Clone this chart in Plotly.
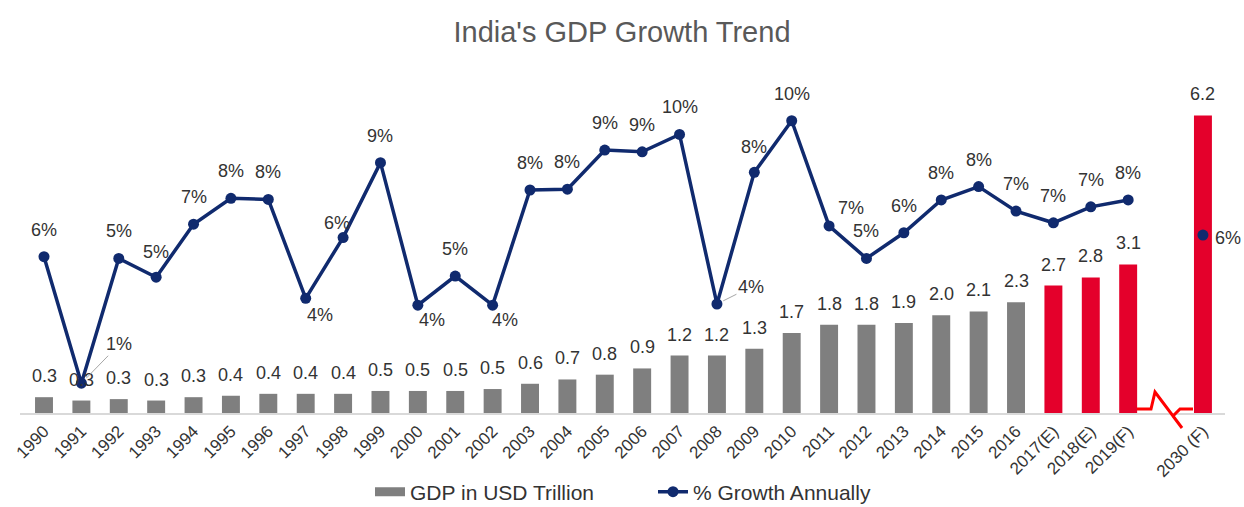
import plotly.graph_objects as go

# ---------------- data ----------------
categories = ["1990", "1991", "1992", "1993", "1994", "1995", "1996", "1997", "1998", "1999",
              "2000", "2001", "2002", "2003", "2004", "2005", "2006", "2007", "2008", "2009",
              "2010", "2011", "2012", "2013", "2014", "2015", "2016",
              "2017(E)", "2018(E)", "2019(F)", "2030 (F)"]
gdp_usd_trillion = [0.33, 0.26, 0.29, 0.26, 0.33, 0.36, 0.40, 0.40, 0.40, 0.46,
                    0.46, 0.46, 0.50, 0.61, 0.70, 0.80, 0.93, 1.20, 1.20, 1.34,
                    1.67, 1.84, 1.84, 1.88, 2.04, 2.12, 2.31,
                    2.66, 2.83, 3.10, 6.21]
growth_pct = [5.52, 1.08, 5.46, 4.80, 6.66, 7.57, 7.53, 4.06, 6.19, 8.82,
              3.82, 4.84, 3.82, 7.86, 7.89, 9.26, 9.20, 9.81, 3.86, 8.48,
              10.29, 6.60, 5.46, 6.36, 7.51, 7.98, 7.12,
              6.71, 7.27, 7.51, 6.28]
projected = ["2017(E)", "2018(E)", "2019(F)", "2030 (F)"]

# ---------------- styling ----------------
W, H = 1244, 507
M_L, M_R, M_T, M_B = 20, 19, 80, 94
GRAY, RED, NAVY = "#7f7f7f", "#e4002b", "#102a6e"
TXT = "#333333"
FONT = "Liberation Sans, Arial, sans-serif"
GAP = " "  # axis break slot before 2030

axis_order = categories[:-1] + [GAP] + categories[-1:]
pos = {c: i for i, c in enumerate(axis_order)}  # category -> serial index on the axis
line_x = axis_order
line_y = growth_pct[:-1] + [None] + growth_pct[-1:]
bar_colors = [RED if c in projected else GRAY for c in categories]

X_RANGE = [-0.642, 31.59]
Y1_RANGE = [0, 6.95]
Y2_RANGE = [0.035, 11.72]

# label offsets (pixels: dx right, dy up) for growth labels; default above
label_off = {
    "1991": (38, 39, True),
    "1993": (0, 25, False),
    "1997": (14, -17, False),
    "1998": (-6, 15, False),
    "2000": (14, -15, False),
    "2002": (12, -15, False),
    "2008": (34, 17, True),
    "2009": (0, 25, False),
    "2011": (22, 18, False),
    "2030 (F)": (25, -3, False),
}

fig = go.Figure()
fig.add_trace(go.Bar(
    x=categories, y=gdp_usd_trillion, marker=dict(color=bar_colors, line=dict(width=0)),
    name="GDP in USD Trillion", showlegend=False, yaxis="y",
))
# legend proxy for the bar series (wide grey swatch)
fig.add_trace(go.Scatter(
    x=[None], y=[None], mode="lines", line=dict(color=GRAY, width=9),
    name="GDP in USD Trillion", showlegend=True,
))
fig.add_trace(go.Scatter(
    x=line_x, y=line_y, mode="lines+markers", yaxis="y2",
    line=dict(color=NAVY, width=3.5), marker=dict(color=NAVY, size=11),
    name="% Growth Annually", connectgaps=False,
))

annotations = []
for c, v in zip(categories, gdp_usd_trillion):
    annotations.append(dict(
        x=pos[c], y=v, xref="x", yref="y", text=f"{v:.1f}", showarrow=False,
        yshift=21, yanchor="middle", font=dict(size=18, color=TXT, family=FONT),
    ))
for c, v in zip(categories, growth_pct):
    dx, dy, arrow = label_off.get(c, (0, 27, False))
    a = dict(x=pos[c], y=v, xref="x", yref="y2", text=f"{v:.0f}%",
             font=dict(size=18, color=TXT, family=FONT))
    if arrow:
        a.update(showarrow=True, ax=dx, ay=-dy, arrowhead=0, arrowwidth=1,
                 arrowcolor="#a6a6a6", standoff=7, startstandoff=0)
    else:
        a.update(showarrow=False, xshift=dx, yshift=dy, yanchor="middle")
    annotations.append(a)

# axis-break zigzag (pixel geometry converted to paper coords)
pw, ph = W - M_L - M_R, H - M_T - M_B
def px(x):
    return (x - M_L) / pw
def py(y):
    return (H - M_B - y) / ph
zig = [(1137, 409), (1151, 409), (1155, 392), (1173, 416), (1180, 409), (1193, 409)]
path = "M " + " L ".join(f"{px(x):.5f},{py(y):.5f}" for x, y in zig)
path += f" M {px(1173):.5f},{py(416):.5f} L {px(1182):.5f},{py(428):.5f}"

fig.update_layout(
    width=W, height=H,
    margin=dict(l=M_L, r=M_R, t=M_T, b=M_B, autoexpand=False),
    paper_bgcolor="white", plot_bgcolor="white",
    font=dict(family=FONT, color=TXT, size=18),
    title=dict(text="India's GDP Growth Trend", x=0.5, xanchor="center",
               y=1 - 32 / H, yanchor="middle",
               font=dict(size=29, color="#595959", family=FONT)),
    bargap=0.52,
    xaxis=dict(type="category", categoryorder="array", categoryarray=axis_order,
               range=X_RANGE, showline=True, linecolor="#d9d9d9", linewidth=1.5,
               ticks="", tickangle=-45, showgrid=False, zeroline=False,
               tickfont=dict(size=17, color=TXT, family=FONT)),
    yaxis=dict(range=Y1_RANGE, visible=False, showgrid=False),
    yaxis2=dict(range=Y2_RANGE, overlaying="y", visible=False, showgrid=False),
    legend=dict(orientation="h", x=(370 - M_L) / pw, xanchor="left",
                y=-(492 - (H - M_B)) / ph, yanchor="middle",
                entrywidth=238, font=dict(size=21, color=TXT, family=FONT),
                bgcolor="rgba(0,0,0,0)"),
    annotations=annotations,
    shapes=[dict(type="path", xref="paper", yref="paper", path=path,
                 line=dict(color="#ff0000", width=3))],
    showlegend=True,
)

fig.write_html("out.html", config={"displayModeBar": False},
               post_script="document.body.style.margin='0';")
